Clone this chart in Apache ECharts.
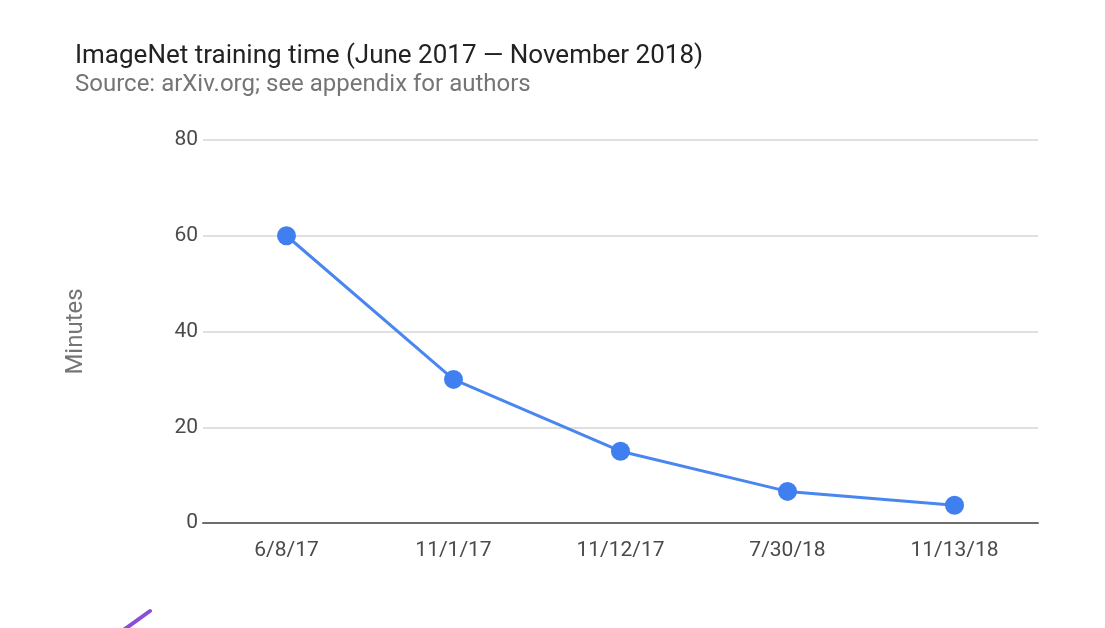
<!DOCTYPE html>
<html>
<head>
<meta charset="utf-8">
<script src="https://cdn.jsdelivr.net/npm/echarts@6/dist/echarts.min.js"></script>
<style>
html,body{margin:0;padding:0;background:#fff;}
#chart{width:1105px;height:628px;}
</style>
</head>
<body>
<div id="chart"></div>
<script>
const categories = ['6/8/17', '11/1/17', '11/12/17', '7/30/18', '11/13/18'];
const minutes = [60, 30, 15, 6.6, 3.7];
const yTicks = { min: 0, max: 80, interval: 20 };
const titleText = 'ImageNet training time (June 2017 \u2014 November 2018)';
const subtitleText = 'Source: arXiv.org; see appendix for authors';
const yName = 'Minutes';

const chart = echarts.init(document.getElementById('chart'));
chart.setOption({
  backgroundColor: '#ffffff',
  animation: false,
  textStyle: { fontFamily: 'Roboto' },
  title: [
    { text: titleText, left: 70, top: 38,
      textStyle: { fontFamily: 'Roboto', fontSize: 26, fontWeight: 'normal', color: '#222222' } },
    { text: subtitleText, left: 70, top: 68,
      textStyle: { fontFamily: 'Roboto', fontSize: 24, fontWeight: 'normal', color: '#757575' } }
  ],
  grid: { left: 203, right: 67, top: 140, bottom: 105, containLabel: false },
  xAxis: {
    type: 'category',
    data: categories,
    boundaryGap: true,
    axisLine: { show: true, lineStyle: { color: '#6e6e6e', width: 2 } },
    axisTick: { show: false },
    axisLabel: { color: '#4a4a4a', fontSize: 21, margin: 17, fontFamily: 'Roboto' },
    splitLine: { show: false }
  },
  yAxis: {
    type: 'value',
    min: yTicks.min, max: yTicks.max, interval: yTicks.interval,
    name: yName,
    nameLocation: 'middle',
    nameGap: 115,
    nameTextStyle: { color: '#757575', fontSize: 24, fontFamily: 'Roboto' },
    axisLine: { show: false },
    axisTick: { show: false },
    axisLabel: { color: '#4a4a4a', fontSize: 21, margin: 5, fontFamily: 'Roboto' },
    splitLine: { show: true, lineStyle: { color: '#e0e0e0', width: 2 } }
  },
  series: [{
    type: 'line',
    data: minutes,
    symbol: 'circle',
    symbolSize: 19,
    lineStyle: { color: '#4a86f0', width: 3 },
    itemStyle: { color: '#3f7ff0' },
    z: 3
  }],
  graphic: [{
    type: 'line',
    shape: { x1: 150, y1: 611, x2: 118, y2: 634 },
    style: { stroke: '#8a4fd8', lineWidth: 4, lineCap: 'round' }
  }]
});
</script>
</body>
</html>
